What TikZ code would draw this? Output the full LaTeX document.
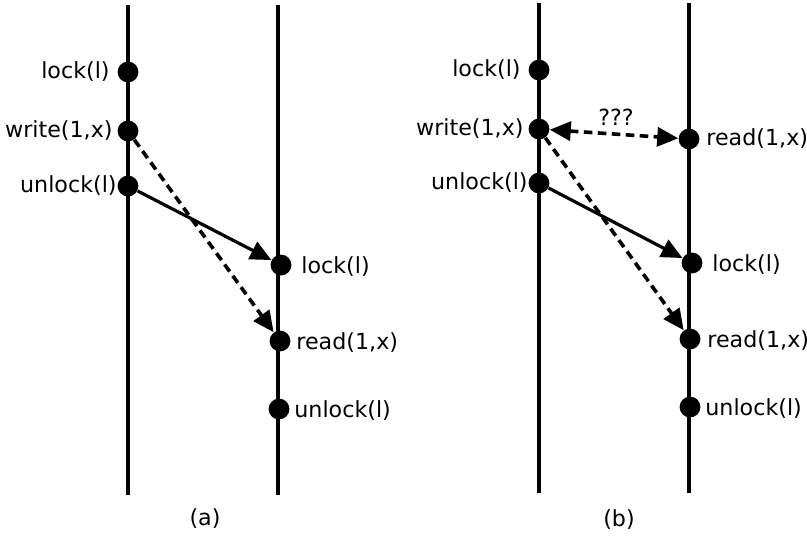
\documentclass[tikz,border=0pt]{standalone}
\usepackage{fontspec}
\setmainfont{DejaVu Sans}
\usetikzlibrary{arrows.meta}
\begin{document}
\begin{tikzpicture}[x=0.5pt,y=-0.5pt,
  font=\fontsize{11.1}{13}\selectfont,
  timeline/.style={line width=1.75pt},
  event/.style={circle,fill=black,inner sep=0pt,minimum size=10.4pt},
  lab/.style={inner sep=0pt},
  msg/.style={line width=1.6pt,-{Triangle[length=10.5pt,width=9.5pt]}},
  dmsg/.style={msg,line width=1.8pt,dash pattern=on 4.3pt off 2.7pt},
  bmsg/.style={line width=1.8pt,dash pattern=on 4.3pt off 2.7pt,
    {Triangle[length=10.5pt,width=9.5pt]}-{Triangle[length=10.5pt,width=9.5pt]}}]
\useasboundingbox (0,0) rectangle (807,538);

% ---- panel (a) ----
\coordinate (a1t) at (128,5);   \coordinate (a1b) at (128,495);
\coordinate (a2t) at (278,5);   \coordinate (a2b) at (278,495);
\draw[timeline] (a1t) -- (a1b);
\draw[timeline] (a2t) -- (a2b);

\node[event] (alock)   at (128,72) {};
\node[event] (awrite)  at (128,131) {};
\node[event] (aunlock) at (128,186) {};
\node[event] (block)   at (281,265) {};
\node[event] (bread)   at (280,341) {};
\node[event] (bunlock) at (279,409) {};

\node[lab,anchor=east] at (110,72)  {lock(l)};
\node[lab,anchor=east] at (113,131) {write(1,x)};
\node[lab,anchor=east] at (117,186) {unlock(l)};
\node[lab,anchor=west] at (301,267) {lock(l)};
\node[lab,anchor=west] at (296,343) {read(1,x)};
\node[lab,anchor=west] at (294,411) {unlock(l)};

\draw[msg]  (aunlock) -- (block);
\draw[dmsg] (awrite) -- (bread);

\node (capa) at (205,519) {(a)};

% ---- panel (b) ----
\coordinate (c1t) at (539,3);   \coordinate (c1b) at (539,493);
\coordinate (c2t) at (689,3);   \coordinate (c2b) at (689,493);
\draw[timeline] (c1t) -- (c1b);
\draw[timeline] (c2t) -- (c2b);

\node[event] (clock)   at (539,70) {};
\node[event] (cwrite)  at (539,129) {};
\node[event] (cunlock) at (539,183) {};
\node[event] (dread1)  at (689,139) {};
\node[event] (dlock)   at (692,263) {};
\node[event] (dread2)  at (690,339) {};
\node[event] (dunlock) at (690,407) {};

\node[lab,anchor=east] at (521,70)  {lock(l)};
\node[lab,anchor=east] at (524,129) {write(1,x)};
\node[lab,anchor=east] at (528,183) {unlock(l)};
\node[lab,anchor=west] at (706,139) {read(1,x)};
\node[lab,anchor=west] at (712,265) {lock(l)};
\node[lab,anchor=west] at (707,341) {read(1,x)};
\node[lab,anchor=west] at (705,409) {unlock(l)};

\draw[bmsg] (cwrite) -- (dread1);
\node (qq) at (616,117) {???};
\draw[msg]  (cunlock) -- (dlock);
\draw[dmsg] (cwrite) -- (dread2);

\node (capb) at (619,520) {(b)};
\end{tikzpicture}
\end{document}
